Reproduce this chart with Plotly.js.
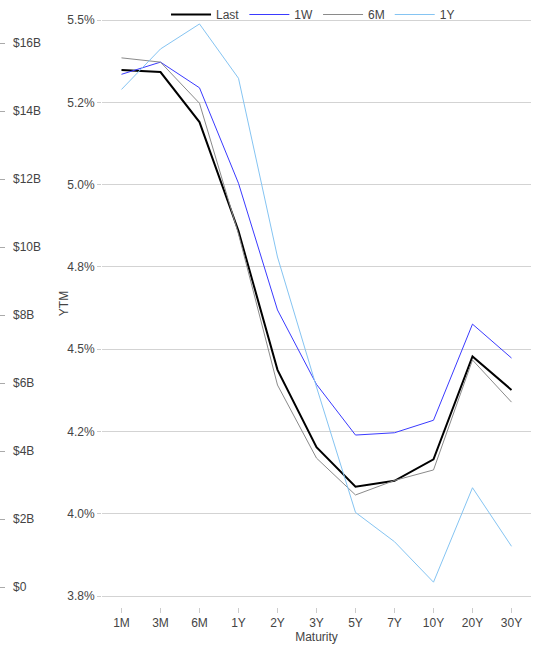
<!DOCTYPE html>
<html>
<head>
<meta charset="utf-8">
<script src="https://cdn.plot.ly/plotly-3.0.1.min.js"></script>
<style>
html,body{margin:0;padding:0;background:#fff;}
#chart{width:538px;height:658px;}
</style>
</head>
<body>
<div id="chart"></div>
<script>
const maturities = ["1M","3M","6M","1Y","2Y","3Y","5Y","7Y","10Y","20Y","30Y"];
const ytmLast = [5.348, 5.342, 5.190, 4.859, 4.437, 4.202, 4.082, 4.100, 4.165, 4.478, 4.376];
const ytm1W   = [5.335, 5.372, 5.294, 5.004, 4.619, 4.393, 4.239, 4.246, 4.284, 4.576, 4.473];
const ytm6M   = [5.385, 5.372, 5.247, 4.850, 4.391, 4.169, 4.057, 4.101, 4.133, 4.467, 4.339];
const ytm1Y   = [5.289, 5.412, 5.488, 5.323, 4.780, 4.385, 4.004, 3.915, 3.792, 4.079, 3.901];
const yTickVals = [3.75, 4.0, 4.25, 4.5, 4.75, 5.0, 5.25, 5.5];
const yTickText = ["3.8%","4.0%","4.2%","4.5%","4.8%","5.0%","5.2%","5.5%"];
const volTickVals = [0, 2, 4, 6, 8, 10, 12, 14, 16];
const volTickText = ["$0","$2B","$4B","$6B","$8B","$10B","$12B","$14B","$16B"];

const fontFam = "Liberation Sans, Arial, Helvetica, sans-serif";

const traces = [
  {x: maturities, y: ytmLast, name: "Last", type: "scatter", mode: "lines",
   line: {color: "#000000", width: 2}},
  {x: maturities, y: ytm1W, name: "1W", type: "scatter", mode: "lines",
   line: {color: "#3a3aff", width: 1}},
  {x: maturities, y: ytm6M, name: "6M", type: "scatter", mode: "lines",
   line: {color: "#8a8a8a", width: 1}},
  {x: maturities, y: ytm1Y, name: "1Y", type: "scatter", mode: "lines",
   line: {color: "#85c4f2", width: 1}},
  {x: [], y: [], type: "bar", yaxis: "y2", showlegend: false, hoverinfo: "skip"}
];

const layout = {
  width: 538, height: 658,
  margin: {l: 5, r: 7, t: 0, b: 51, pad: 0},
  paper_bgcolor: "#ffffff", plot_bgcolor: "#ffffff",
  font: {family: fontFam, size: 12, color: "#444"},
  showlegend: true,
  legend: {orientation: "h", x: 0.5856, xanchor: "center",
           y: 1, yanchor: "top",
           itemwidth: 40,
           bgcolor: "rgba(255,255,255,0)", font: {family: fontFam, size: 12, color: "#444"}},
  shapes: [
    {type: "rect", layer: "between", xref: "paper", yref: "paper",
     x0: 0.3327, x1: 0.8555, y0: 0.9645, y1: 0.9695,
     fillcolor: "#ffffff", line: {width: 0}}
  ],
  xaxis: {
    domain: [0.1844, 1],
    type: "category",
    categoryorder: "array", categoryarray: maturities,
    range: [-0.5, 10.5],
    showgrid: false, zeroline: false, showline: false,
    ticks: "outside", ticklen: 5, tickcolor: "#cccccc",
    tickfont: {family: fontFam, size: 12, color: "#444"},
    title: {text: "Maturity", font: {family: fontFam, size: 12, color: "#444"}, standoff: 0}
  },
  yaxis: {
    range: [3.7166, 5.5608],
    tickvals: yTickVals, ticktext: yTickText,
    showgrid: true, gridcolor: "#d3d3d3", gridwidth: 1,
    zeroline: false, showline: false,
    ticks: "outside", ticklen: 4, tickcolor: "#cccccc",
    tickfont: {family: fontFam, size: 12, color: "#444"},
    title: {text: "YTM", font: {family: fontFam, size: 12, color: "#444"}}
  },
  yaxis2: {
    overlaying: "y", side: "left", anchor: "free", position: 0,
    range: [-0.588, 17.265],
    tickvals: volTickVals, ticktext: volTickText,
    ticklabelposition: "inside", ticklabelstandoff: 4,
    showgrid: false, zeroline: false, showline: false,
    ticks: "outside", ticklen: 5, tickcolor: "#aaaaaa",
    tickfont: {family: fontFam, size: 12, color: "#444"}
  }
};

Plotly.newPlot("chart", traces, layout, {displayModeBar: false, staticPlot: true});
</script>
</body>
</html>
